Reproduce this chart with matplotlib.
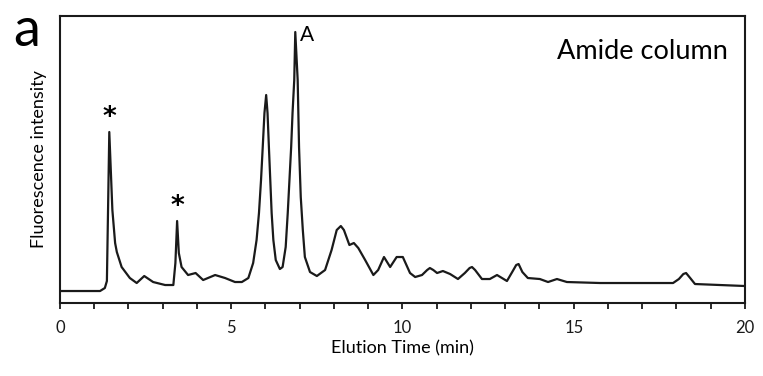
import matplotlib.pyplot as plt
import numpy as np

plt.rcParams['font.family'] = ['Lato', 'DejaVu Sans']

# elution time (min) and fluorescence intensity (arbitrary units)
time_min = [0.00, 1.17, 1.31, 1.37, 1.44, 1.53, 1.61, 1.66, 1.80, 2.04, 2.24, 2.46,
            2.72, 3.07, 3.31, 3.37, 3.42, 3.47, 3.55, 3.74, 3.96, 4.18, 4.53, 4.82,
            5.11, 5.31, 5.50, 5.64, 5.74, 5.81, 5.87, 5.92, 5.97, 6.02, 6.06, 6.10,
            6.14, 6.18, 6.23, 6.30, 6.42, 6.50, 6.59, 6.65, 6.70, 6.75, 6.79, 6.84,
            6.87, 6.94, 6.98, 7.03, 7.09, 7.15, 7.30, 7.50, 7.74, 7.93, 8.08, 8.20,
            8.29, 8.45, 8.58, 8.71, 8.91, 9.15, 9.29, 9.46, 9.64, 9.83, 10.01, 10.22,
            10.37, 10.57, 10.72, 10.80, 10.90, 11.01, 11.18, 11.39, 11.62, 11.82, 11.96, 12.03,
            12.12, 12.32, 12.55, 12.76, 13.05, 13.22, 13.32, 13.39, 13.50, 13.66, 14.01, 14.25,
            14.51, 14.80, 15.77, 16.93, 17.90, 18.07, 18.20, 18.28, 18.40, 18.54, 19.27, 20.00]
intensity = [12, 12, 15, 22, 171, 93, 60, 51, 36, 25, 20, 27,
             21, 18, 18, 40, 82, 50, 36, 28, 30, 23, 28, 25,
             21, 21, 25, 40, 63, 90, 123, 156, 190, 208, 190, 156,
             123, 90, 63, 43, 34, 36, 56, 90, 123, 156, 190, 223,
             271, 223, 156, 106, 73, 46, 31, 27, 33, 53, 73, 77,
             73, 58, 60, 55, 43, 28, 33, 46, 36, 46, 46, 30,
             26, 28, 33, 35, 33, 30, 32, 29, 24, 30, 35, 36,
             33, 24, 24, 28, 22, 32, 38, 39, 31, 25, 24, 21,
             24, 21, 20, 20, 20, 24, 29, 30, 25, 19, 18, 17]

# annotated peaks
star_peaks = [1.44, 3.42]
peak_a = 6.87

fig = plt.figure(figsize=(7.63, 3.76), dpi=100)
ax = fig.add_axes([0.0786, 0.1941, 0.8978, 0.7633])

ax.plot(time_min, intensity, color="#1a1a1a", linewidth=1.6)
ax.set_xlim(0, 20)
ax.set_ylim(0, 287)

ax.set_xticks(np.arange(0, 21, 5))
ax.set_xticks(np.arange(0, 21, 1), minor=True)
ax.tick_params(axis="x", which="both", direction="out", length=4, width=1.3,
               labelsize=12, pad=8, colors="#1a1a1a")
ax.set_yticks([])
for sp in ax.spines.values():
    sp.set_linewidth(1.5)
    sp.set_color("#1a1a1a")

ax.set_xlabel("Elution Time (min)", fontsize=13, labelpad=3)
ax.set_ylabel("Fluorescence intensity", fontsize=13, labelpad=9)

for t in star_peaks:
    v = np.interp(t, time_min, intensity)
    ax.text(t, v + 1, "*", ha="center", va="bottom", fontsize=19, fontweight="bold",
            family="DejaVu Sans")
ax.text(peak_a + 0.15, 268, "A", ha="left", va="center", fontsize=15)

ax.text(0.975, 0.92, "Amide column", transform=ax.transAxes, ha="right", va="top", fontsize=19.5)
fig.text(0.018, 0.985, "a", ha="left", va="top", fontsize=39)

fig.savefig("out.png", dpi=100)
